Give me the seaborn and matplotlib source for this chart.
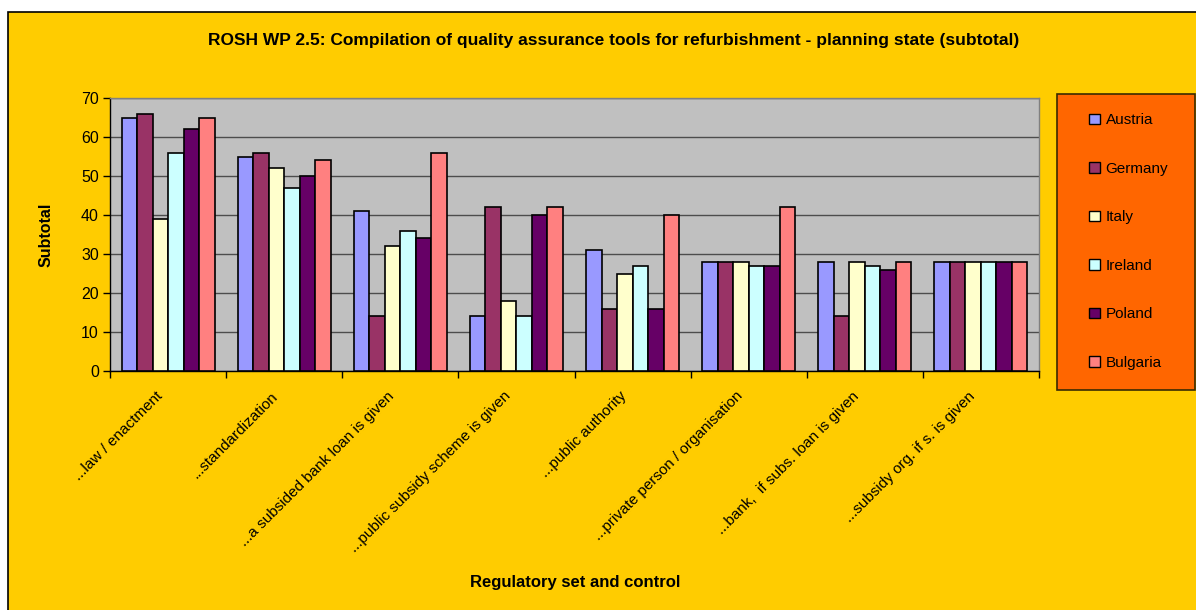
import matplotlib
matplotlib.use("Agg")
import matplotlib.pyplot as plt
import matplotlib.transforms as mtransforms
from matplotlib.patches import Rectangle
import numpy as np
import pandas as pd
import seaborn as sns

# Data: subtotal scores per quality-assurance instrument and country
categories = [
    "...law / enactment",
    "...standardization",
    "...a subsided bank loan is given",
    "...public subsidy scheme is given",
    "...public authority",
    "...private person / organisation",
    "...bank,  if subs. loan is given",
    "...subsidy org. if s. is given",
]
countries = ["Austria", "Germany", "Italy", "Ireland", "Poland", "Bulgaria"]

austria = [65, 55, 41, 14, 31, 28, 28, 28]
germany = [66, 56, 14, 42, 16, 28, 14, 28]
italy = [39, 52, 32, 18, 25, 28, 28, 28]
ireland = [56, 47, 36, 14, 27, 27, 27, 28]
poland = [62, 50, 34, 40, 16, 27, 26, 28]
bulgaria = [65, 54, 56, 42, 40, 42, 28, 28]

colors = ["#9999FF", "#993366", "#FFFFCC", "#CCFFFF", "#660066", "#FF8080"]

series = [austria, germany, italy, ireland, poland, bulgaria]
df = pd.DataFrame(
    [(cat, c, v) for c, vals in zip(countries, series) for cat, v in zip(categories, vals)],
    columns=["category", "country", "value"],
)

sns.set_style("white")
plt.rcParams["font.family"] = ["Liberation Sans", "DejaVu Sans"]
plt.rcParams["text.color"] = "black"

W, H = 1196, 610
fig = plt.figure(figsize=(W / 100, H / 100), dpi=100)
fig.patch.set_facecolor("white")

# Yellow chart area with black border
fig.add_artist(Rectangle((8 / W, -0.02), 1.05, (H - 12) / H + 0.02,
                         transform=fig.transFigure, facecolor="#FFCC00",
                         edgecolor="black", linewidth=1.2, zorder=0))

ax = fig.add_axes([110 / W, (H - 371) / H, (1039 - 110) / W, (371 - 98) / H])
ax.set_facecolor("#C0C0C0")

sns.barplot(data=df, x="category", y="value", hue="country", palette=colors,
            hue_order=countries, order=categories, saturation=1, width=0.8,
            edgecolor="black", linewidth=1.2, ax=ax, zorder=3, errorbar=None)

ax.set_ylim(0, 70)
ax.set_xlim(-0.5, len(categories) - 0.5)
ax.set_yticks(np.arange(0, 71, 10))
ax.yaxis.grid(True, color="#4d4d4d", linewidth=1.0, zorder=1)
ax.set_axisbelow(True)

for s in ["top", "right"]:
    ax.spines[s].set_color("#808080")
    ax.spines[s].set_linewidth(1.0)
for s in ["left", "bottom"]:
    ax.spines[s].set_color("black")
    ax.spines[s].set_linewidth(1.0)

ax.tick_params(axis="y", which="major", direction="out", length=5, width=1,
               color="black", labelsize=11.5, labelcolor="black", pad=3, left=True)
ax.set_xticks(range(len(categories)))
ax.set_xticklabels(categories, rotation=45, ha="right", rotation_mode="anchor",
                   fontsize=11, color="black")
ax.tick_params(axis="x", which="major", length=0, pad=13)
ax.set_xticks(np.arange(-0.5, len(categories), 1.0), minor=True)
ax.tick_params(axis="x", which="minor", direction="out", length=5, width=1,
               color="black", bottom=True)

# nudge the slanted category labels a little to the left
shift = mtransforms.ScaledTranslation(-13 / 100, 0, fig.dpi_scale_trans)
for lbl in ax.get_xticklabels():
    lbl.set_transform(lbl.get_transform() + shift)

ax.set_xlabel("")
ax.set_ylabel("Subtotal", fontsize=11.5, fontweight="bold", labelpad=20, color="black")
fig.text(575 / W, 1 - 582 / H, "Regulatory set and control", fontsize=12,
         fontweight="bold", ha="center", va="center")

fig.text(614 / W, 1 - 40 / H,
         "ROSH WP 2.5: Compilation of quality assurance tools for refurbishment - planning state (subtotal)",
         fontsize=12.5, fontweight="bold", ha="center", va="center")

# Legend panel
fig.add_artist(Rectangle((1057 / W, 1 - 390 / H), (1195 - 1057) / W, (390 - 94) / H,
                         transform=fig.transFigure, facecolor="#FF6600",
                         edgecolor="#3a2a00", linewidth=1.2, zorder=1))
if ax.get_legend() is not None:
    ax.get_legend().remove()
handles = [Rectangle((0, 0), 1, 1, facecolor=c, edgecolor="black", linewidth=1.0)
           for c in colors]
fig.legend(handles, countries, loc="upper left",
           bbox_to_anchor=(1083 / W, 1 - 107 / H), frameon=False,
           fontsize=11, labelspacing=2.26, handlelength=0.68, handleheight=0.68,
           handletextpad=0.4, borderaxespad=0)

fig.savefig("out.png", dpi=100, facecolor=fig.get_facecolor())
